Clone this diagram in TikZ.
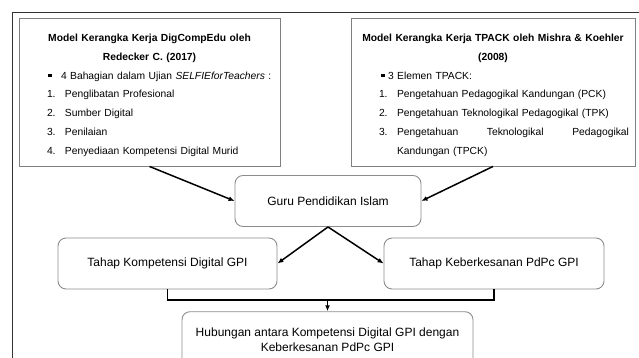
\documentclass[tikz,border=0pt]{standalone}
\usepackage{fontspec}
\setmainfont{Liberation Sans}
\usetikzlibrary{arrows.meta}

\begin{document}
\begin{tikzpicture}[
  x=1pt, y=-1pt,
  outerframe/.style={draw=black!80, line width=1.3pt},
  modelbox/.style={draw=black!50, line width=0.9pt, inner sep=0pt, minimum height=148pt, font=\fontsize{10.3}{18.9}\selectfont},
  stagebox/.style={draw=black!45, line width=0.9pt, rounded corners=8pt, inner sep=0pt, minimum height=51pt, align=center, font=\fontsize{12}{15}\selectfont},
  arrow/.style={-{Latex[length=6pt,width=5pt]}, line width=1.5pt},
  busline/.style={line width=1.5pt}
]
\clip (0,0) rectangle (639,358);
\draw[outerframe] (645,12.5) -- (12.5,12.5) -- (12.5,365);
\node[modelbox, minimum width=261pt, text width=205pt] (digcomp) at (149.5,92) {%
  \raggedright
  \makebox[\linewidth]{\rule{0pt}{15pt}\textbf{Model Kerangka Kerja DigCompEdu oleh}}\\
  \makebox[\linewidth]{\textbf{Redecker C. (2017)}}\\
  \hspace*{1pt}\rule[2pt]{3.5pt}{3.5pt}\hspace{9.5pt}\rlap{4 Bahagian dalam Ujian \textit{SELFIEforTeachers} :}\\
  \makebox[18pt][l]{1.}Penglibatan Profesional\\
  \makebox[18pt][l]{2.}Sumber Digital\\
  \makebox[18pt][l]{3.}Penilaian\\
  \makebox[18pt][l]{4.}Penyediaan Kompetensi Digital Murid\rule[-3pt]{0pt}{3pt}};
\node[modelbox, minimum width=284pt, text width=267pt] (tpack) at (493,92) {%
  \raggedright
  \makebox[\linewidth]{\rule{0pt}{15pt}\textbf{Model Kerangka Kerja TPACK oleh Mishra \& Koehler}}\\
  \makebox[\linewidth]{\textbf{(2008)}}\\
  \hspace*{21.5pt}\rule[2pt]{3.5pt}{3.5pt}\hspace{3.5pt}3 Elemen TPACK:\\
  \hspace*{19.5pt}\makebox[18pt][l]{1.}Pengetahuan Pedagogikal Kandungan (PCK)\\
  \hspace*{19.5pt}\makebox[18pt][l]{2.}Pengetahuan Teknologikal Pedagogikal (TPK)\\
  \hspace*{19.5pt}\makebox[18pt][l]{3.}\rlap{\hbox to 232pt{Pengetahuan\hfill Teknologikal\hfill Pedagogikal}}\\
  \hspace*{37.5pt}Kandungan (TPCK)\rule[-3pt]{0pt}{3pt}};
\node[stagebox, minimum width=186pt] (guru) at (328,201) {Guru Pendidikan Islam};
\node[stagebox, minimum width=219pt] (komp) at (167.5,263.5) {Tahap Kompetensi Digital GPI};
\node[stagebox, minimum width=220pt] (kesan) at (494,263.5) {Tahap Keberkesanan PdPc GPI};
\node[stagebox, minimum width=291pt, minimum height=56pt] (hub) at (327.5,339.7) {Hubungan antara Kompetensi Digital GPI dengan\\Keberkesanan PdPc GPI};
\coordinate (join) at (327.5,300);
\draw[arrow] (digcomp.south) -- (guru.west);
\draw[arrow] (tpack.south) -- (guru.east);
\draw[arrow] (guru.south) -- (komp.east);
\draw[arrow] (guru.south) -- (kesan.west);
\draw[busline] (komp.south) |- (join) -| (kesan.south);
\draw[arrow] (join) -- (hub.north);
\end{tikzpicture}
\end{document}
